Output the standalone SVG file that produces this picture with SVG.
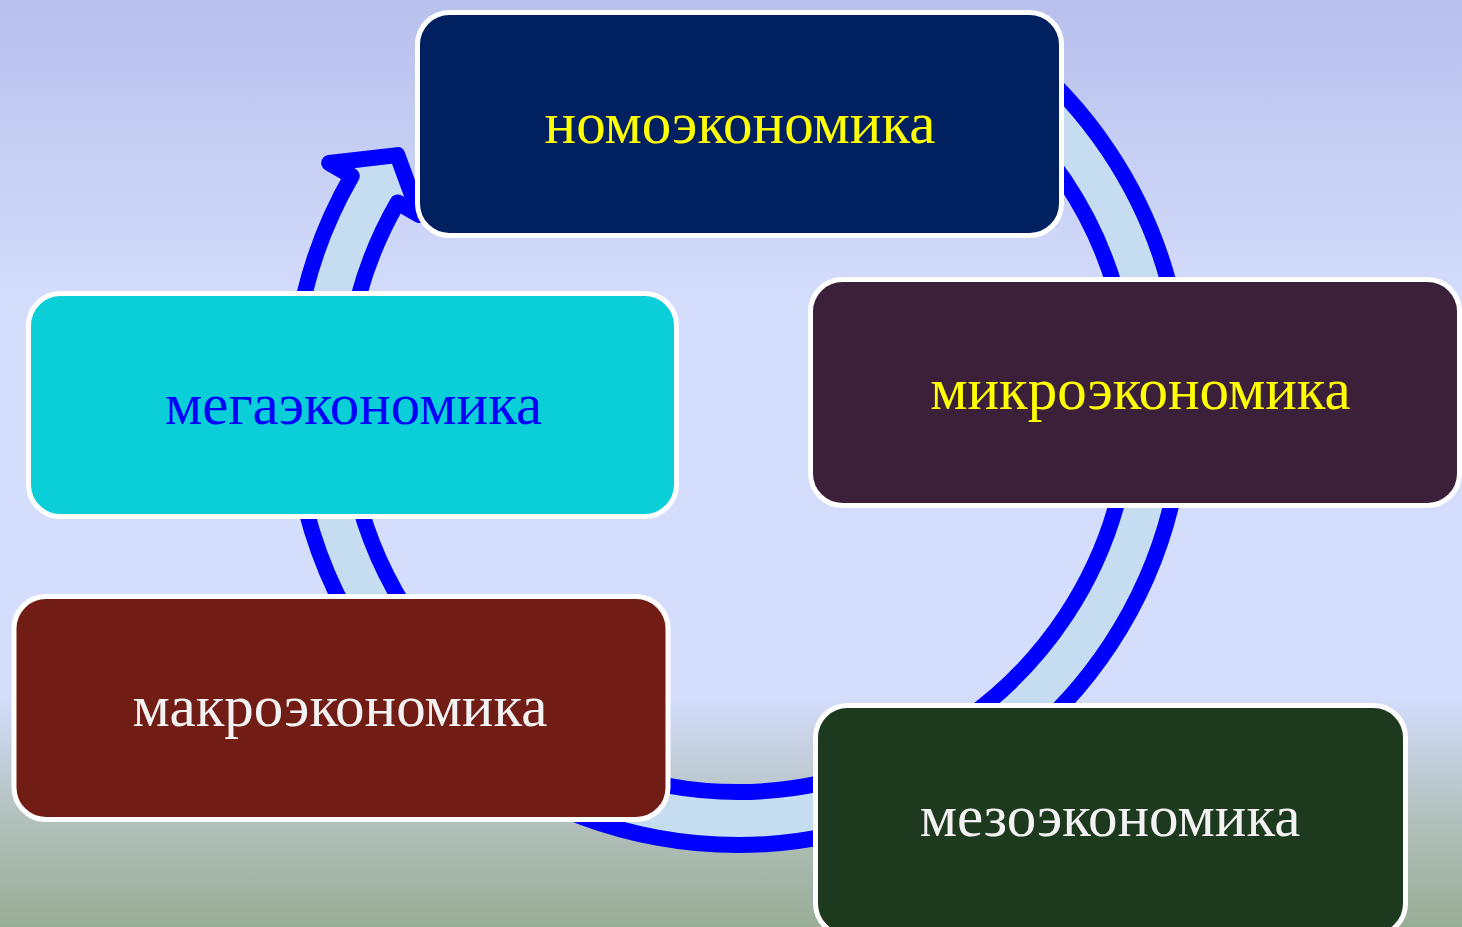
<svg xmlns="http://www.w3.org/2000/svg" width="1462" height="927" viewBox="0 0 1462 927">
  <defs>
    <linearGradient id="bg" x1="0" y1="0" x2="0" y2="1">
      <stop offset="0" stop-color="#b8c0ec"/>
      <stop offset="0.33" stop-color="#d4ddfc"/>
      <stop offset="0.75" stop-color="#d4ddfc"/>
      <stop offset="0.88" stop-color="#b3c1be"/>
      <stop offset="1" stop-color="#98ad96"/>
    </linearGradient>
    <style>
      .box { stroke: #ffffff; stroke-width: 5; }
      .lbl { font-family: "Liberation Serif", "Times New Roman", serif; font-size: 59px; text-anchor: middle; }
    </style>
  </defs>
  <rect x="0" y="0" width="1462" height="927" fill="url(#bg)"/>
  <g id="connectors">
    <path d="M 993.82 33.66 A 446 446 0 1 1 351.75 176 L 329.2 163 L 397.3 155.1 L 419.3 215 L 397.65 202.5 A 393 393 0 1 0 963.42 77.07 Z" fill="#c6dcf0" stroke="#0000ff" stroke-width="16" stroke-linejoin="round"/>
  </g>
  <g id="node-nomo">
    <rect class="box" x="417.5" y="12.5" width="644" height="223" rx="32" fill="#002060"/>
    <text class="lbl" x="740" y="143" fill="#ffff00">номоэкономика</text>
  </g>
  <g id="node-mikro">
    <rect class="box" x="810.5" y="279.5" width="649" height="226" rx="32" fill="#3c2039"/>
    <text class="lbl" x="1140.5" y="409" fill="#ffff00">микроэкономика</text>
  </g>
  <g id="node-mega">
    <rect class="box" x="28.5" y="293.5" width="648" height="223" rx="32" fill="#0bcfd8"/>
    <text class="lbl" x="353.5" y="424" fill="#0000ff">мегаэкономика</text>
  </g>
  <g id="node-makro">
    <rect class="box" x="14" y="596.5" width="654" height="223" rx="32" fill="#711c14"/>
    <text class="lbl" x="340" y="726" fill="#f2f2f2">макроэкономика</text>
  </g>
  <g id="node-mezo">
    <rect class="box" x="815.5" y="705.5" width="590" height="230" rx="32" fill="#1e3a1e"/>
    <text class="lbl" x="1110" y="836" fill="#f2f2f2">мезоэкономика</text>
  </g>
</svg>
